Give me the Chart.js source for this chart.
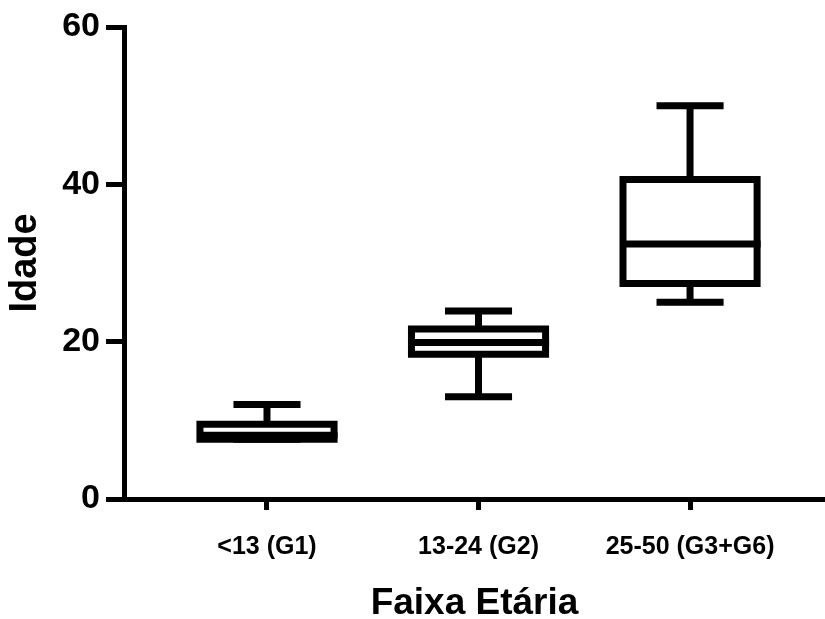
<!DOCTYPE html>
<html>
<head>
<meta charset="utf-8">
<script src="https://cdn.jsdelivr.net/npm/chart.js@4/dist/chart.umd.min.js"></script>
<style>
  html, body { margin: 0; padding: 0; background: #fff; }
  canvas { display: block; }
</style>
</head>
<body>
<canvas id="boxChart" width="825" height="619"></canvas>
<script>
// faixas etárias
const labels = ['<13 (G1)', '13-24 (G2)', '25-50 (G3+G6)'];
const mins = [7.6, 13, 25];
const q1s = [7.6, 18.4, 27.4];
const medians = [8.1, 19.9, 32.4];
const q3s = [9.5, 21.6, 40.6];
const maxs = [12, 23.9, 50];
const yTicks = [0, 20, 40, 60];

const LW = 7;

// whiskers, box outline and median line
const boxPlotLines = {
    id: 'boxPlotLines',
    afterDatasetsDraw(chart) {
        const ctx = chart.ctx;
        const y = chart.scales.y;
        const meta = chart.getDatasetMeta(0);
        ctx.save();
        ctx.strokeStyle = '#000';
        ctx.lineWidth = LW;
        ctx.lineCap = 'butt';
        meta.data.forEach((bar, i) => {
            const cx = bar.x;
            const half = bar.width / 2;
            const cap = bar.width / 4;
            const yMin = y.getPixelForValue(mins[i]);
            const yQ1 = y.getPixelForValue(q1s[i]);
            const yMed = y.getPixelForValue(medians[i]);
            const yQ3 = y.getPixelForValue(q3s[i]);
            const yMax = y.getPixelForValue(maxs[i]);
            ctx.beginPath();
            // upper whisker
            ctx.moveTo(cx, yQ3); ctx.lineTo(cx, yMax);
            ctx.moveTo(cx - cap, yMax); ctx.lineTo(cx + cap, yMax);
            // lower whisker
            ctx.moveTo(cx, yQ1); ctx.lineTo(cx, yMin);
            ctx.moveTo(cx - cap, yMin); ctx.lineTo(cx + cap, yMin);
            ctx.stroke();
            // box
            ctx.beginPath();
            ctx.rect(cx - half, yQ3, half * 2, yQ1 - yQ3);
            ctx.stroke();
            // median
            ctx.beginPath();
            ctx.moveTo(cx - half, yMed); ctx.lineTo(cx + half + LW / 2, yMed);
            ctx.stroke();
        });
        ctx.restore();
    }
};

const ctx = document.getElementById('boxChart').getContext('2d');
new Chart(ctx, {
    type: 'bar',
    data: {
        datasets: [{
            data: labels.map((l, i) => ({ x: i, y: [q1s[i], q3s[i]] })),
            backgroundColor: '#ffffff',
            borderWidth: 0,
            barPercentage: 0.634,
            categoryPercentage: 1
        }]
    },
    options: {
        responsive: false,
        animation: false,
        layout: { padding: { top: 27, right: 0, left: 0, bottom: 0 } },
        plugins: {
            legend: { display: false },
            tooltip: { enabled: false }
        },
        scales: {
            x: {
                type: 'linear',
                offset: false,
                min: -0.676,
                max: 2.638,
                afterBuildTicks: (scale) => {
                    scale.ticks = labels.map((l, i) => ({ value: i }));
                },
                afterFit: (scale) => { scale.height = 120; },
                ticks: {
                    color: '#000',
                    font: { family: 'Liberation Sans', size: 25, weight: 'bold' },
                    padding: 22,
                    maxRotation: 0,
                    autoSkip: false,
                    callback: (v) => labels[v]
                },
                grid: {
                    offset: false,
                    drawOnChartArea: false,
                    color: '#000',
                    tickLength: 11,
                    tickWidth: 5
                },
                border: { color: '#000', width: 5 },
                title: {
                    display: true,
                    text: 'Faixa Etária',
                    color: '#000',
                    font: { family: 'Liberation Sans', size: 37, weight: 'bold', lineHeight: 0.8 },
                    padding: { top: 0, bottom: 0 }
                }
            },
            y: {
                min: 0,
                max: 60,
                afterBuildTicks: (scale) => {
                    scale.ticks = yTicks.map(v => ({ value: v }));
                },
                afterFit: (scale) => { scale.width = 124; },
                ticks: {
                    color: '#000',
                    font: { family: 'Liberation Sans', size: 34, weight: 'bold' },
                    padding: 6
                },
                grid: {
                    drawOnChartArea: false,
                    color: '#000',
                    tickLength: 18,
                    tickWidth: 5
                },
                border: { color: '#000', width: 5 },
                title: {
                    display: true,
                    text: 'Idade',
                    color: '#000',
                    font: { family: 'Liberation Sans', size: 38, weight: 'bold', lineHeight: 1 },
                    padding: { top: 7, bottom: 0 }
                }
            }
        }
    },
    plugins: [boxPlotLines]
});
</script>
</body>
</html>
